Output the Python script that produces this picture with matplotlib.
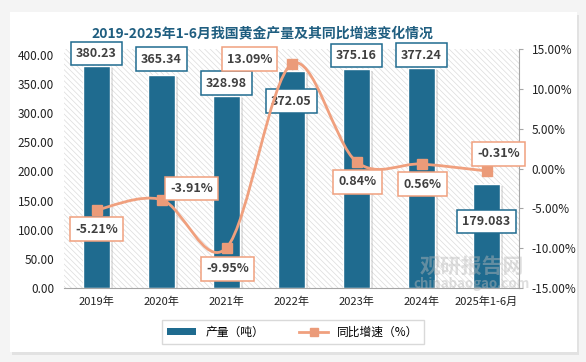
import numpy as np
import matplotlib
matplotlib.use("Agg")
from matplotlib import pyplot as plt
from matplotlib.path import Path
from matplotlib.patches import PathPatch, Rectangle
from matplotlib.lines import Line2D
import matplotlib.patheffects as pe

plt.rcParams['font.family'] = ['Noto Sans CJK SC', 'DejaVu Sans']
plt.rcParams['hatch.linewidth'] = 0.5

# data
categories = ["2019年", "2020年", "2021年", "2022年", "2023年", "2024年", "2025年1-6月"]
output_t = [380.23, 365.34, 328.98, 372.05, 375.16, 377.24, 179.083]
output_lbl = ["380.23", "365.34", "328.98", "372.05", "375.16", "377.24", "179.083"]
growth = [-5.21, -3.91, -9.95, 13.09, 0.84, 0.56, -0.31]
growth_lbl = ["-5.21%", "-3.91%", "-9.95%", "13.09%", "0.84%", "0.56%", "-0.31%"]
left_ticks = [0, 50, 100, 150, 200, 250, 300, 350, 400]
right_ticks = [-15, -10, -5, 0, 5, 10, 15]

bar_colour = "#1F6B8F"
line_colour = "#F0A07E"
text_colour = "#404040"

# label offsets in pixels (dx, dy)
bar_off = [(0, 13), (0, 16), (0, 13), (0, -30), (0, 14), (0, 13), (0, -38)]
line_off = [(0, -19), (30, 11), (1, -21), (-42, 5), (1, -20), (1, -20), (12, 17)]

W, H = 586, 362
fig = plt.figure(figsize=(W / 100, H / 100), dpi=100)
fig.patch.set_facecolor("#F4F4F4")

# white panel with shadow
px0, py0, px1, py1 = 10, 12, 577, 352
shadow = Rectangle((px0 / W + 0.004, 1 - py1 / H - 0.008), (px1 - px0) / W, (py1 - py0) / H,
                   transform=fig.transFigure, facecolor="#E2E2E2", edgecolor="none", zorder=-2)
panel = Rectangle((px0 / W, 1 - py1 / H), (px1 - px0) / W, (py1 - py0) / H,
                  transform=fig.transFigure, facecolor="white", edgecolor="none", zorder=-1)
fig.patches.extend([shadow, panel])

ax = fig.add_axes([64 / W, 1 - 288 / H, (519 - 64) / W, (288 - 49) / H])
ax.set_facecolor("white")
# hatched plot area
ax.add_patch(Rectangle((0, 0), 1, 1, transform=ax.transAxes, facecolor="white",
                       edgecolor="#DCDCDC", linewidth=0, hatch="\\\\\\\\\\\\", zorder=0))

x = np.arange(len(categories))
bars = ax.bar(x, output_t, width=0.43, color=bar_colour, edgecolor="white", linewidth=1, zorder=2,
              path_effects=[pe.SimplePatchShadow(offset=(1.5, -1.5), shadow_rgbFace="#A0A0A0", alpha=0.3),
                            pe.Normal()])
ax.set_xlim(-0.5, len(categories) - 0.5)
ax.set_ylim(0, 410)
ax.set_yticks(left_ticks)
ax.set_yticklabels(["%.2f" % t for t in left_ticks], fontsize=8.5, color="#222222")
ax.set_xticks(x)
ax.set_xticklabels(categories, fontsize=8, color="#222222")
ax.tick_params(axis="both", length=0, pad=6)
ax.tick_params(axis="y", pad=7)
for s in ["top", "left", "right"]:
    ax.spines[s].set_visible(False)
ax.spines["bottom"].set_color("#A6A6A6")

ax2 = ax.twinx()
ax2.set_ylim(-15, 15)
ax2.set_yticks(right_ticks)
ax2.set_yticklabels(["%.2f%%" % t for t in right_ticks], fontsize=8.5, color="#222222")
ax2.tick_params(axis="y", length=3, color="#A6A6A6", pad=6)
for s in ["top", "left", "bottom"]:
    ax2.spines[s].set_visible(False)
ax2.spines["right"].set_color("#A6A6A6")

# smoothed line (Catmull-Rom style bezier, like Excel smoothing)
pts = np.column_stack([x, growth]).astype(float)
verts = [tuple(pts[0])]
codes = [Path.MOVETO]
n = len(pts)
for i in range(n - 1):
    p0 = pts[max(i - 1, 0)]
    p1 = pts[i]
    p2 = pts[i + 1]
    p3 = pts[min(i + 2, n - 1)]
    c1 = p1 + (p2 - p0) / 6.0
    c2 = p2 - (p3 - p1) / 6.0
    verts += [tuple(c1), tuple(c2), tuple(p2)]
    codes += [Path.CURVE4] * 3
ax2.add_patch(PathPatch(Path(verts, codes), facecolor="none", edgecolor=line_colour, lw=2, zorder=3))
ax2.plot(x, growth, linestyle="none", marker="s", markersize=6.5, color="#EB9B79", zorder=4)

box_kw = dict(boxstyle="square,pad=0.42", facecolor="white", linewidth=1.1)
for i, v in enumerate(output_t):
    ax.annotate(output_lbl[i], xy=(i, v), xytext=bar_off[i], textcoords="offset pixels",
                ha="center", va="center", fontsize=9, fontweight="bold", color=text_colour,
                bbox=dict(edgecolor=bar_colour, **box_kw), zorder=6)
for i, v in enumerate(growth):
    ax2.annotate(growth_lbl[i], xy=(i, v), xytext=line_off[i], textcoords="offset pixels",
                 ha="center", va="center", fontsize=9, fontweight="bold", color=text_colour,
                 bbox=dict(edgecolor=line_colour, **box_kw), zorder=6)

# watermark
fig.text(472 / W, 1 - 266 / H, "观研报告网", fontsize=15, fontweight="bold", color="#B8B8B8",
         alpha=0.45, ha="center", va="center", zorder=10)
fig.text(472 / W, 1 - 284 / H, "chinabaogao.com", fontsize=9.5, fontweight="bold", color="#B8B8B8",
         alpha=0.45, ha="center", va="center", zorder=10)

fig.text(262 / W, 1 - 33 / H, "2019-2025年1-6月我国黄金产量及其同比增速变化情况",
         fontsize=10, fontweight="bold", color="#1F5E80", ha="center", va="center")

handles = [Rectangle((0, 0), 1, 1, facecolor=bar_colour, edgecolor="none"),
           Line2D([], [], color=line_colour, lw=2, marker="s", markersize=6, markerfacecolor="#EB9B79",
                  markeredgecolor="#EB9B79")]
leg = fig.legend(handles, ["产量（吨）", "同比增速（%）"], loc="center", bbox_to_anchor=(293 / W, 1 - 332 / H),
                 ncol=2, fancybox=False, edgecolor="#D9D9D9", fontsize=8.5, handlelength=2.4,
                 handleheight=0.5, columnspacing=3.0, borderpad=0.45, framealpha=1)
leg.get_frame().set_linewidth(1)

fig.savefig("out.png", dpi=100, facecolor=fig.get_facecolor())
